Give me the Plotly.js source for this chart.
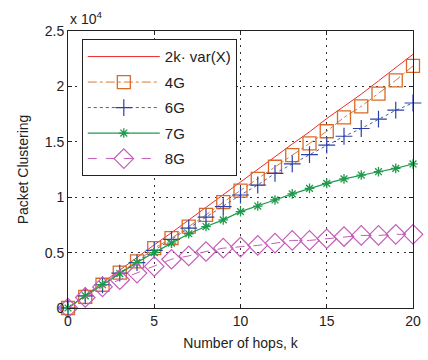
<!DOCTYPE html>
<html><head><meta charset="utf-8">
<script src="https://cdn.plot.ly/plotly-3.0.1.min.js"></script>
<style>html,body{margin:0;padding:0;background:#fff}#chart{width:428px;height:360px}</style>
</head><body><div id="chart"></div>
<script>
const hops = [0,1,2,3,4,5,6,7,8,9,10,11,12,13,14,15,16,17,18,19,20];
const theory = [0,1150,2300,3400,4550,5700,6800,7950,9100,10250,11400,12500,13650,14800,15900,17100,18200,19300,20500,21700,22900];
const g4 = [0,1000,2100,3200,4200,5400,6300,7350,8400,9550,10600,11650,12750,13800,14850,15950,17200,18200,19350,20550,21850];
const g6 = [0,1100,2100,3150,4100,5200,6200,7200,8200,9150,10200,11100,12150,13000,13850,14700,15500,16200,17050,17850,18500];
const g7 = [0,1100,2100,3100,4100,5000,5850,6700,7350,7950,8700,9200,9750,10300,10800,11250,11650,12000,12300,12600,13000];
const g8 = [0,950,1900,2550,3150,3750,4400,4700,5100,5400,5500,5650,5850,6100,6100,6250,6450,6550,6550,6650,6650];
const yTicks = [0,5000,10000,15000,20000,25000];
const yTickText = ['0','0.5','1','1.5','2','2.5'];
const xTicks = [0,5,10,15,20];

const traces = [
  {x:hops,y:theory,name:'2k\u00b7 var(X)',legendgroup:'a',mode:'lines',cliponaxis:false,line:{color:'#ee2a2a',width:1}},
  {x:hops,y:g4,name:'4G',legendgroup:'b',mode:'lines+markers',cliponaxis:false,line:{color:'#d8783a',width:1,dash:'dashdot'},
   marker:{symbol:'square-open',size:13,color:'#d86a28',line:{width:1.3,color:'#d86a28'}}},
  {x:hops,y:g6,name:'6G',legendgroup:'c',mode:'lines+markers',cliponaxis:false,line:{color:'#4a5cb0',width:1,dash:'dot'},
   marker:{symbol:'cross-thin-open',size:12,color:'#2b40a8',line:{width:1.2,color:'#2b40a8'}}},
  {x:hops,y:g7,name:'7G',legendgroup:'d',mode:'lines+markers',cliponaxis:false,line:{color:'#1e9a4c',width:1.2},
   marker:{symbol:'asterisk-open',size:8,color:'#1e9a4c',line:{width:1.3,color:'#1e9a4c'}}},
  {x:hops,y:g8,name:'8G',legendgroup:'e',mode:'lines+markers',cliponaxis:false,line:{color:'#c45cb8',width:1,dash:'dash'},
   marker:{symbol:'diamond-open',size:15,color:'#c45cb8',line:{width:1.2,color:'#c45cb8'}}}
];

const axisCommon = {showline:true,linecolor:'#222',linewidth:1,mirror:'ticks',ticks:'inside',ticklen:4,tickcolor:'#222',
  showgrid:true,gridcolor:'#333',griddash:'2px,5px',gridwidth:1,zeroline:false,
  tickfont:{family:'Liberation Sans, Arial, sans-serif',size:14,color:'#222'}};

const layout = {
  width:428,height:360,margin:{l:68,r:15,t:31,b:52},
  paper_bgcolor:'#fff',plot_bgcolor:'#fff',
  font:{family:'Liberation Sans, Arial, sans-serif',color:'#222'},
  xaxis:Object.assign({},axisCommon,{range:[0,20],tickvals:xTicks,
    title:{text:'Number of hops, k',font:{size:14},standoff:10}}),
  yaxis:Object.assign({},axisCommon,{range:[0,25000],tickvals:yTicks,ticktext:yTickText,
    title:{text:'Packet Clustering',font:{size:14},standoff:12}}),
  legend:{x:0.04,y:0.97,xanchor:'left',yanchor:'top',bgcolor:'#fff',bordercolor:'#222',borderwidth:1,
    font:{size:15,color:'#222'},itemwidth:72,tracegroupgap:3},
  annotations:[{xref:'paper',yref:'paper',x:0,y:1,xanchor:'left',yanchor:'bottom',yshift:2,showarrow:false,
    text:'x 10<sup>4</sup>',font:{size:14,color:'#222'}}]
};
Plotly.newPlot('chart',traces,layout,{displayModeBar:false,staticPlot:true});
</script></body></html>
